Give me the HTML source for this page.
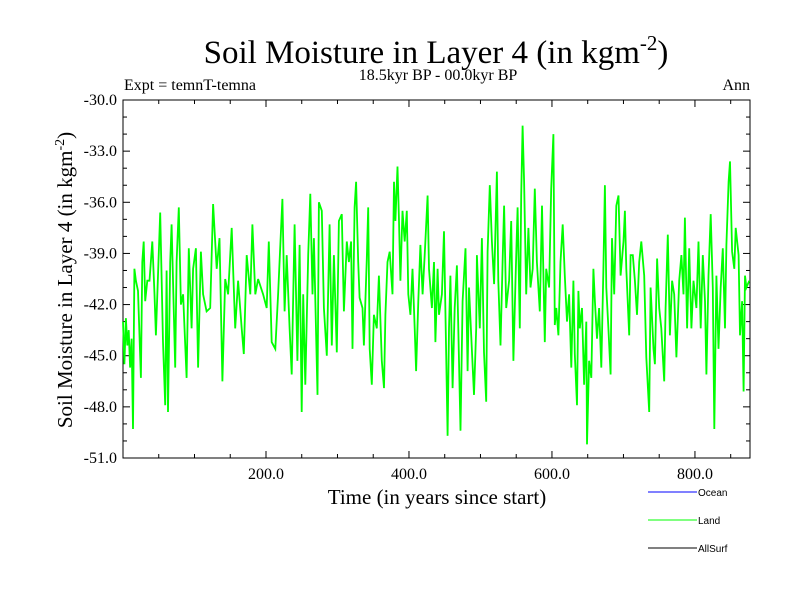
<!DOCTYPE html>
<html><head><meta charset="utf-8"><style>
body{margin:0;background:#fff}
svg{display:block}
text{font-family:"Liberation Serif",serif;fill:#000}
</style></head><body>
<svg id="chart" width="800" height="600" xmlns="http://www.w3.org/2000/svg">
<text x="436" y="63" font-size="33" text-anchor="middle">Soil Moisture in Layer 4 (in kgm<tspan dy="-13" font-size="21">-2</tspan><tspan dy="13">)</tspan></text>
<text x="438" y="80" font-size="16" text-anchor="middle">18.5kyr BP - 00.0kyr BP</text>
<text x="124" y="90" font-size="16">Expt = temnT-temna</text>
<text x="750" y="90" font-size="16" text-anchor="end">Ann</text>
<text transform="translate(72,280) rotate(-90)" font-size="21" text-anchor="middle">Soil Moisture in Layer 4 (in kgm<tspan dy="-8" font-size="14">-2</tspan><tspan dy="8">)</tspan></text>
<text x="437" y="504" font-size="21" text-anchor="middle">Time (in years since start)</text>
<g id="axes"></g>
<g id="series"></g>
<g>
<line x1="648" y1="492" x2="697" y2="492" stroke="#0000ff"/>
<text x="698" y="496" font-size="10" style="font-family:'Liberation Sans',sans-serif">Ocean</text>
<line x1="648" y1="520" x2="697" y2="520" stroke="#00ff00"/>
<text x="698" y="524" font-size="10" style="font-family:'Liberation Sans',sans-serif">Land</text>
<line x1="648" y1="548" x2="697" y2="548" stroke="#000"/>
<text x="698" y="552" font-size="10" style="font-family:'Liberation Sans',sans-serif">AllSurf</text>
</g>
</svg>
<script>
const years=[0,2,4,6,8,10,12,14,16,18,21,25,27,29,31,34,37,41,44,46,52,56,59,61,63,66,68,73,75,78,81,84,89,92,96,98,102,105,109,112,117,122,126,131,135,139,143,147,152,157,161,166,169,173,178,181,185,189,196,201,204,208,213,217,223,226,229,233,236,240,244,247,250,252,255,259,262,265,267,272,274,278,281,285,289,
292,295,299,302,306,309,313,316,319,321,324,326,329,331,335,337,341,343,345,348,351,355,358,362,365,367,370,373,377,379,381,384,386,388,391,394,397,399,402,405,408,410,413,416,419,422,426,428,432,435,437,440,442,446,449,452,454,456,458,461,464,467,469,472,475,479,482,484,487,491,494,495,499,502,505,508,510,513,516,519,523,525,528,531,533,536,540,543,546,549,552,555,557,559,561,564,567,570,573,576,579,583,586,590,592,596,
599,602,604,606,609,612,615,618,621,624,627,630,632,635,637,639,642,645,648,649,652,655,658,660,663,666,669,672,674,676,679,682,684,687,690,693,696,700,702,704,708,710,713,716,719,722,725,729,732,736,738,742,744,747,750,753,757,759,762,765,768,771,774,778,781,784,786,789,792,795,798,802,805,808,811,814,816,819,822,825,827,830,833,836,839,842,844,847,849,852,855,857,861,863,866,868,870,872,876];
const landValues=[-43.0,-45.5,-42.8,-44.4,-43.5,-45.7,-44.0,-49.3,-39.9,-40.6,-41.2,-46.3,-39.5,-38.3,-41.8,-40.6,-40.6,-38.3,-41.4,-43.8,-36.6,-44.2,-47.9,-40.0,-48.3,-39.5,-37.3,-45.7,-39.5,-36.3,-42.0,-41.4,-46.3,-38.7,-43.4,-39.9,-38.7,-45.7,-38.9,-41.4,-42.4,-42.2,-36.1,-39.9,-38.1,-46.5,-40.5,-41.4,-37.5,-43.4,-40.6,-43.4,-44.9,-39.1,-41.4,-37.3,-41.4,-40.5,-41.4,-42.2,-38.3,-44.2,-44.6,-41.4,-35.8,-42.4,-39.1,-43.4,-46.1,-37.3,-45.3,-38.5,-48.3,-41.4,-46.7,-39.1,-35.5,-41.4,-38.1,-47.3,-36.0,-36.5,-42.2,-45.0,-37.3,
-44.4,-39.1,-44.8,-37.1,-36.7,-42.4,-38.3,-39.5,-38.3,-44.6,-36.3,-34.8,-39.5,-41.6,-42.2,-44.4,-39.3,-36.3,-44.6,-46.7,-42.6,-43.4,-40.3,-45.3,-46.9,-42.6,-39.5,-38.9,-41.4,-34.8,-37.1,-33.9,-37.1,-40.6,-36.5,-38.3,-36.5,-41.4,-42.6,-39.9,-43.4,-45.9,-41.8,-38.5,-41.4,-39.1,-35.6,-39.9,-42.2,-39.5,-44.2,-39.9,-42.6,-41.4,-37.7,-45.0,-49.7,-43.4,-40.3,-46.9,-42.2,-39.7,-43.4,-49.4,-41.8,-38.7,-45.9,-41.0,-43.8,-47.3,-43.4,-39.1,-43.4,-38.1,-44.8,-47.7,-38.9,-35.0,-38.3,-40.8,-34.2,-40.6,-44.4,-39.5,-36.2,-42.2,-40.6,-37.1,-45.3,-40.6,-36.3,-43.4,-35.6,-31.5,-34.8,-41.4,-37.5,-41.0,-39.9,-35.2,-39.5,-42.4,-36.2,-44.2,-39.9,-41.0,
-35.2,-32.0,-43.2,-42.2,-43.8,-39.5,-37.3,-40.3,-43.0,-41.4,-45.7,-40.6,-44.9,-47.9,-41.2,-43.4,-42.2,-46.7,-43.0,-50.2,-45.3,-46.3,-39.9,-41.8,-44.0,-42.2,-45.7,-39.9,-35.0,-41.0,-43.4,-46.1,-38.1,-41.4,-36.2,-35.6,-40.3,-38.3,-36.5,-39.9,-43.8,-39.1,-39.1,-40.6,-42.6,-39.5,-38.3,-40.3,-45.1,-48.3,-41.0,-44.6,-45.5,-39.3,-42.2,-43.4,-46.5,-42.2,-37.9,-43.8,-40.6,-41.4,-45.1,-40.6,-39.1,-41.4,-36.9,-43.4,-38.7,-43.4,-40.6,-42.2,-38.3,-43.4,-39.1,-41.8,-46.1,-40.3,-36.7,-41.0,-49.3,-40.3,-44.6,-41.0,-38.7,-43.4,-38.5,-34.8,-33.6,-38.9,-39.9,-37.5,-39.1,-43.8,-41.8,-47.1,-40.3,-41.0,-40.6];
const yTicks=[-30.0,-33.0,-36.0,-39.0,-42.0,-45.0,-48.0,-51.0];
const xTicks=[200,400,600,800];
const X0=123,X1=750,Y0=100,Y1=458,XMAX=877,YMIN=-51,YMAX=-30;
const xs=v=>X0+(v/XMAX)*(X1-X0);
const ys=v=>Y0+(YMAX-v)/(YMAX-YMIN)*(Y1-Y0);
const NS="http://www.w3.org/2000/svg";
const axes=document.getElementById('axes');
function mk(tag,attrs,parent){const e=document.createElementNS(NS,tag);for(const k in attrs)e.setAttribute(k,attrs[k]);parent.appendChild(e);return e;}
const frame=mk('rect',{x:X0,y:Y0,width:X1-X0,height:Y1-Y0,fill:'none',stroke:'#000','stroke-width':1},axes);


for(let v=-51;v<=-30;v+=1){
  const major=(v%3===0);const L=major?7:4;const y=ys(v);
  const t1=mk('line',{x1:X0,y1:y,x2:X0+L,y2:y,stroke:'#000'},axes);
  
  
  const t2=mk('line',{x1:X1,y1:y,x2:X1-L,y2:y,stroke:'#000'},axes);
  
  
}
yTicks.forEach(v=>{
  const t=mk('text',{x:117,y:ys(v)+5,'font-size':16,'text-anchor':'end'},axes);t.textContent=v.toFixed(1);
  
  
});
for(let v=50;v<XMAX;v+=50){
  const major=(v%200===0);const L=major?7:4;const x=xs(v);
  const t1=mk('line',{x1:x,y1:Y1,x2:x,y2:Y1-L,stroke:'#000'},axes);
  
  
  const t2=mk('line',{x1:x,y1:Y0,x2:x,y2:Y0+L,stroke:'#000'},axes);
  
  
}
xTicks.forEach(v=>{
  const t=mk('text',{x:xs(v),y:479,'font-size':16,'text-anchor':'middle'},axes);t.textContent=v.toFixed(1);
  
  
});
const pts=years.map((yr,i)=>xs(yr).toFixed(1)+','+ys(landValues[i]).toFixed(1)).join(' ');
const line=mk('polyline',{points:pts,fill:'none',stroke:'#00ff00','stroke-width':1.8,'stroke-linejoin':'miter'},document.getElementById('series'));


</script>
</body></html>
